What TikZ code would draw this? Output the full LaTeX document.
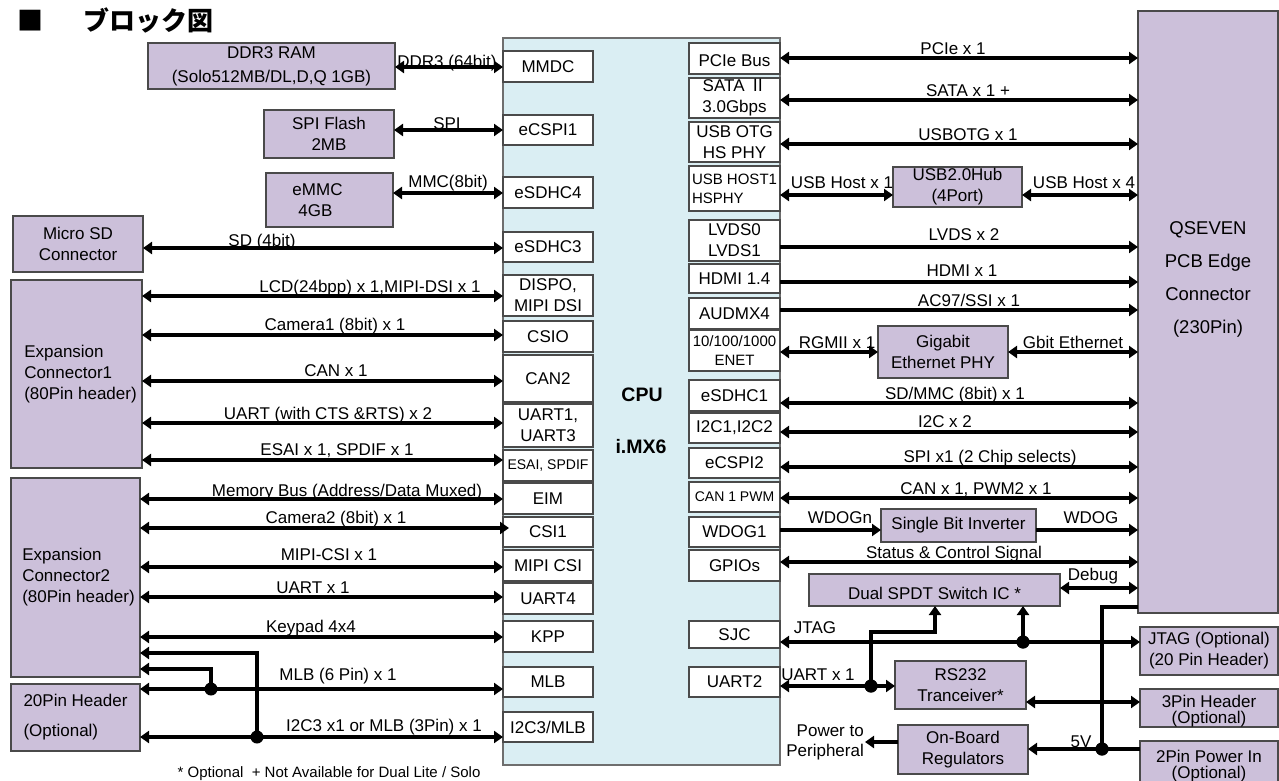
\documentclass[tikz,border=0pt]{standalone}
\usepackage{fontspec}
\setmainfont{Liberation Sans}
\newfontfamily\jp{Noto Sans CJK JP}
\usetikzlibrary{arrows.meta}
\definecolor{purp}{HTML}{CCC0DA}
\definecolor{cpub}{HTML}{DAEEF3}
\definecolor{edgec}{HTML}{4A4A4A}
\newcommand\bx[7]{%
  \pgfmathsetmacro\bw{#5-#3}\pgfmathsetmacro\bh{#6-#4}%
  \node[#1, minimum width=\bw pt, minimum height=\bh pt, anchor=north west] (#2) at (#3,#4) {#7};}
\begin{document}
\begin{tikzpicture}[x=1pt,y=-1pt,
  bxbase/.style={font=\fontsize{17}{21}\selectfont, inner sep=0pt, outer sep=0pt, align=center, line width=1.1pt},
  pbox/.style={bxbase, draw=edgec, fill=purp},
  ibox/.style={bxbase, draw=edgec, fill=white},
  cbox/.style={bxbase, draw=edgec!80, fill=cpub},
  lbl/.style={font=\fontsize{17}{21}\selectfont, inner sep=0pt, anchor=base},
  wire/.style={line width=3.3pt},
  bi/.style={wire, {Triangle[length=9pt,width=12pt]}-{Triangle[length=9pt,width=12pt]}},
  ar/.style={wire, -{Triangle[length=9pt,width=12pt]}},
  jdot/.style={circle, fill=black, minimum size=13pt, inner sep=0pt},
  sm/.style={font=\fontsize{14}{17}\selectfont},
  md/.style={font=\fontsize{15}{19}\selectfont}]
\useasboundingbox (0,0) rectangle (1279,781);
% title
\node[anchor=west, inner sep=0pt, font=\fontsize{26}{30}\selectfont\jp\bfseries] (title) at (17,20) {■\hspace{40pt}ブロック図};
% CPU
\bx{cbox}{cpu}{503}{38}{780}{765}{}
\node[font=\bfseries\fontsize{19.5}{23}\selectfont, inner sep=0pt] (cput) at (642,395) {CPU};
\node[font=\bfseries\fontsize{19.5}{23}\selectfont, inner sep=0pt] (imx) at (641,447) {i.MX6};
% left inner boxes
\bx{ibox}{mmdc}{503}{51}{593}{82}{MMDC}
\bx{ibox}{ecspi1}{503}{115}{593}{145}{eCSPI1}
\bx{ibox}{esdhc4}{503}{177}{593}{208}{eSDHC4}
\bx{ibox}{esdhc3}{503}{232}{593}{262}{eSDHC3}
\bx{ibox}{dispo}{503}{275}{593}{316}{DISPO,\\MIPI DSI}
\bx{ibox}{csio}{503}{321}{593}{352}{CSIO}
\bx{ibox}{can2}{503}{355}{593}{402}{CAN2}
\bx{ibox}{uart13}{503}{404}{593}{447}{UART1,\\UART3}
\bx{ibox,sm}{esai}{503}{450}{593}{481}{ESAI, SPDIF}
\bx{ibox}{eim}{503}{483}{593}{514}{EIM}
\bx{ibox}{csi1}{503}{517}{593}{547}{CSI1}
\bx{ibox}{mipicsi}{503}{550}{593}{581}{MIPI CSI}
\bx{ibox}{uart4}{503}{583}{593}{614}{UART4}
\bx{ibox}{kpp}{503}{621}{593}{652}{KPP}
\bx{ibox}{mlb}{503}{667}{593}{697}{MLB}
\bx{ibox}{i2c3}{503}{712}{593}{742}{I2C3/MLB}
% right inner boxes
\bx{ibox}{pcie}{689}{43}{780}{74}{\rule{0pt}{17pt}PCIe Bus}
\bx{ibox}{sata}{689}{78}{780}{118}{SATA {\jp Ⅱ}\\3.0Gbps}
\bx{ibox}{usbotg}{689}{122}{780}{162}{USB OTG\\HS PHY}
\bx{ibox,md,align=left}{usbh}{689}{166}{780}{211}{USB HOST1\\HSPHY}
\bx{ibox}{lvds}{689}{220}{780}{261}{LVDS0\\LVDS1}
\bx{ibox}{hdmi}{689}{264}{780}{293}{HDMI 1.4}
\bx{ibox}{audmx}{689}{298}{780}{329}{AUDMX4}
\bx{ibox,md}{enet}{689}{330}{780}{371}{10/100/1000\\ENET}
\bx{ibox}{esdhc1}{689}{380}{780}{411}{eSDHC1}
\bx{ibox}{i2c12}{689}{413}{780}{443}{I2C1,I2C2}
\bx{ibox}{ecspi2}{689}{448}{780}{478}{eCSPI2}
\bx{ibox,sm}{can1}{689}{482}{780}{512}{CAN 1 PWM}
\bx{ibox}{wdog1}{689}{517}{780}{547}{WDOG1}
\bx{ibox}{gpio}{689}{550}{780}{581}{GPIOs}
\bx{ibox}{sjc}{689}{621}{780}{648}{SJC}
\bx{ibox}{uart2}{689}{667}{780}{697}{UART2}
% left peripheral boxes
\bx{pbox}{ddr}{148}{43}{395}{89}{DDR3 RAM\\[3pt](Solo512MB/DL,D,Q 1GB)}
\bx{pbox}{spif}{264}{110}{394}{158}{SPI Flash\\2MB}
\bx{pbox,align=left}{emmc}{266}{173}{393}{227}{eMMC\\\hspace*{6pt}4GB\hspace*{34pt}}
\bx{pbox}{msd}{13}{216}{143}{272}{Micro SD\\Connector}
\bx{pbox,align=left}{exp1}{11}{280}{142}{468}{\hspace*{8pt}Expansion\\\hspace*{8pt}Connector1\\\hspace*{8pt}(80Pin header)}
\bx{pbox,align=left}{exp2}{11}{478}{140}{677}{\hspace*{6pt}Expansion\\\hspace*{6pt}Connector2\\\hspace*{6pt}(80Pin header)}
\bx{pbox,align=left}{pin20}{11}{684}{140}{751}{20Pin Header\\[9pt](Optional)}
% right peripheral boxes
\bx{pbox}{hub}{893}{167}{1022}{207}{USB2.0Hub\\(4Port)}
\bx{pbox}{gbe}{878}{326}{1008}{378}{Gigabit\\Ethernet PHY}
\bx{pbox}{inv}{881}{509}{1036}{542}{Single Bit Inverter}
\bx{pbox}{spdt}{809}{574}{1060}{606}{\rule{0pt}{20pt}Dual SPDT Switch IC *}
\bx{pbox}{rs232}{895}{661}{1026}{709}{RS232\\Tranceiver*}
\bx{pbox}{reg}{898}{725}{1028}{774}{On-Board\\Regulators}
\bx{pbox}{qseven}{1138}{11}{1278}{613}{}
\node[font=\fontsize{18.5}{33}\selectfont, align=center, inner sep=0pt] (qtxt) at (1208,279) {QSEVEN\\PCB Edge\\Connector\\(230Pin)};
\bx{pbox}{jtagc}{1140}{627}{1278}{675}{JTAG (Optional)\\(20 Pin Header)}
\bx{pbox}{pin3}{1140}{689}{1278}{727}{}
\node[font=\fontsize{17}{16}\selectfont, align=center, inner sep=0pt] (pin3t) at (1209,711) {3Pin Header\\(Optional)};
\bx{pbox}{pwr}{1140}{741}{1278}{785}{}
\node[font=\fontsize{17}{16}\selectfont, align=center, inner sep=0pt] (pwrt) at (1209,766) {2Pin Power In\\(Optional)};
% left arrows
\draw[bi] (ddr.east |- 0,67) -- (mmdc.west |- 0,67);
\draw[bi] (spif.east |- 0,130) -- (ecspi1.west |- 0,130);
\draw[bi] (emmc.east |- 0,193) -- (esdhc4.west |- 0,193);
\draw[bi] (msd.east |- 0,248) -- (esdhc3.west |- 0,248);
\draw[bi] (exp1.east |- 0,296) -- (dispo.west |- 0,296);
\draw[bi] (exp1.east |- 0,335) -- (csio.west |- 0,335);
\draw[bi] (exp1.east |- 0,381) -- (can2.west |- 0,381);
\draw[bi] (exp1.east |- 0,423) -- (uart13.west |- 0,423);
\draw[bi] (exp1.east |- 0,460) -- (esai.west |- 0,460);
\draw[bi] (exp2.east |- 0,499) -- (eim.west |- 0,499);
\draw[bi] (exp2.east |- 0,528) -- ([xshift=6pt]csi1.west |- 0,528);
\draw[bi] (exp2.east |- 0,567) -- (mipicsi.west |- 0,567);
\draw[bi] (exp2.east |- 0,597) -- (uart4.west |- 0,597);
\draw[bi] (exp2.east |- 0,637) -- (kpp.west |- 0,637);
\draw[bi] (pin20.east |- 0,689) -- (mlb.west |- 0,689);
\draw[bi] (pin20.east |- 0,737) -- (i2c3.west |- 0,737);
\node[jdot] (d1) at (211,689) {};
\node[jdot] (d2) at (257,737) {};
\draw[ar] (d1.center) |- (exp2.east |- 0,669);
\draw[ar] (d2.center) |- (exp2.east |- 0,653);
% left labels
\node[lbl] (t1) at (447,68) {DDR3 (64bit)};
\node[lbl] (t2) at (447,129) {SPI};
\node[lbl] (t3) at (448,187) {MMC(8bit)};
\node[lbl] (t4) at (262,246) {SD (4bit)};
\node[lbl] (t5) at (370,292) {LCD(24bpp) x 1,MIPI-DSI x 1};
\node[lbl] (t6) at (335,330) {Camera1 (8bit) x 1};
\node[lbl] (t7) at (336,376) {CAN x 1};
\node[lbl] (t8) at (328,419) {UART (with CTS \&RTS) x 2};
\node[lbl] (t9) at (337,455) {ESAI x 1, SPDIF x 1};
\node[lbl] (t10) at (347,496) {Memory Bus (Address/Data Muxed)};
\node[lbl] (t11) at (336,523) {Camera2 (8bit) x 1};
\node[lbl] (t12) at (329,560) {MIPI-CSI x 1};
\node[lbl] (t13) at (313,593) {UART x 1};
\node[lbl] (t14) at (311,632) {Keypad 4x4};
\node[lbl] (t15) at (338,680) {MLB (6 Pin) x 1};
\node[lbl] (t16) at (384,731) {I2C3 x1 or MLB (3Pin) x 1};
% right arrows
\draw[bi] (pcie.east |- 0,58) -- (qseven.west |- 0,58);
\draw[bi] (sata.east |- 0,100) -- (qseven.west |- 0,100);
\draw[bi] (usbotg.east |- 0,144) -- (qseven.west |- 0,144);
\draw[bi] (usbh.east |- 0,195) -- (hub.west |- 0,195);
\draw[bi] (hub.east |- 0,195) -- (qseven.west |- 0,195);
\draw[ar] (lvds.east |- 0,247) -- (qseven.west |- 0,247);
\draw[ar] (hdmi.east |- 0,282) -- (qseven.west |- 0,282);
\draw[ar] (audmx.east |- 0,310) -- (qseven.west |- 0,310);
\draw[bi] (enet.east |- 0,352) -- (gbe.west |- 0,352);
\draw[bi] (gbe.east |- 0,352) -- (qseven.west |- 0,352);
\draw[bi] (esdhc1.east |- 0,403) -- (qseven.west |- 0,403);
\draw[bi] (i2c12.east |- 0,432) -- (qseven.west |- 0,432);
\draw[bi] (ecspi2.east |- 0,467) -- (qseven.west |- 0,467);
\draw[bi] (can1.east |- 0,498) -- (qseven.west |- 0,498);
\draw[ar] (wdog1.east |- 0,530) -- (inv.west |- 0,530);
\draw[ar] (inv.east |- 0,530) -- (qseven.west |- 0,530);
\draw[bi] (gpio.east |- 0,562) -- (qseven.west |- 0,562);
\draw[bi] (spdt.east |- 0,588) -- (qseven.west |- 0,588);
\draw[bi] (sjc.east |- 0,642) -- (jtagc.west |- 0,642);
\draw[bi] (uart2.east |- 0,686) -- (rs232.west |- 0,686);
\draw[bi] (rs232.east |- 0,702) -- (pin3.west |- 0,702);
\node[jdot] (d3) at (1023,642) {};
\node[jdot] (d4) at (871,686) {};
\node[jdot] (d5) at (1102,749) {};
\coordinate (k1) at (935,632);
\draw[ar] (d3.center) -- (spdt.south -| d3);
\draw[ar] (d4.center) |- (k1) -- (spdt.south -| k1);
\draw[ar] (pwr.west |- 0,749) -- (reg.east |- 0,749);
\draw[wire] (d5.center) |- (qseven.west |- 0,607);
\coordinate (pp) at (865,742);
\draw[ar] (reg.west |- pp) -- (pp);
\node[jdot] at (d3) {};
\node[jdot] at (d4) {};
\node[jdot] at (d5) {};
% right labels
\node[lbl] (r1) at (953,55) {PCIe x 1};
\node[lbl] (r2) at (968,97) {SATA x 1 +};
\node[lbl] (r3) at (968,140) {USBOTG x 1};
\node[lbl] (r4) at (842,188) {USB Host x 1};
\node[lbl] (r5) at (1084,188) {USB Host x 4};
\node[lbl] (r6) at (964,240) {LVDS x 2};
\node[lbl] (r7) at (962,276) {HDMI x 1};
\node[lbl] (r8) at (969,306) {AC97/SSI x 1};
\node[lbl] (r9) at (837,348) {RGMII x 1};
\node[lbl] (r10) at (1073,348) {Gbit Ethernet};
\node[lbl] (r11) at (955,399) {SD/MMC (8bit) x 1};
\node[lbl] (r12) at (945,427) {I2C x 2};
\node[lbl] (r13) at (990,462) {SPI x1 (2 Chip selects)};
\node[lbl] (r14) at (976,494) {CAN x 1, PWM2 x 1};
\node[lbl] (r15) at (840,523) {WDOGn};
\node[lbl] (r16) at (1091,523) {WDOG};
\node[lbl] (r17) at (954,558) {Status \& Control Signal};
\node[lbl] (r18) at (1093,580) {Debug};
\node[lbl] (r19) at (815,633) {JTAG};
\node[lbl] (r20) at (818,680) {UART x 1};
\node[lbl] (r21) at (1081,747) {5V};
\node[anchor=east, align=right, inner sep=1pt, font=\fontsize{17}{20}\selectfont] (ptxt) at (pp) {Power to\\Peripheral};
% footnote
\node[lbl, font=\fontsize{15}{18}\selectfont] (foot) at (329,777) {* Optional\ \ + Not Available for Dual Lite / Solo};
\end{tikzpicture}
\end{document}
